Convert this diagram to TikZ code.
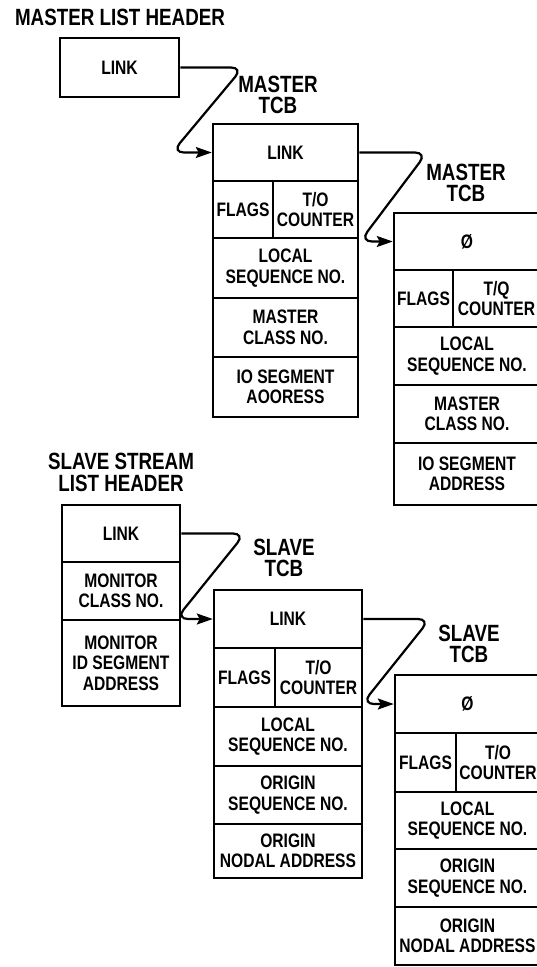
\documentclass[tikz,border=0pt]{standalone}
\usepackage{fontspec}
\newfontfamily\condb{Liberation Sans}[FakeStretch=0.8]
\usetikzlibrary{arrows.meta}
\tikzset{
  cell/.style={draw, line width=2.5pt, inner sep=0pt, align=center,
    font=\condb\bfseries\fontsize{19.5}{20.5}\selectfont},
  head/.style={inner sep=0pt, align=center,
    font=\condb\bfseries\fontsize{23.5}{21.5}\selectfont},
  linkline/.style={line width=2.2pt, rounded corners=12pt,
    -{Stealth[length=16pt,width=11pt,inset=3pt]}}
}
\newcommand{\boxcell}[6]{%
  \pgfmathsetmacro{\cellw}{#4-#2}%
  \pgfmathsetmacro{\cellh}{#5-#3}%
  \node[cell, minimum width=\cellw pt, minimum height=\cellh pt] (#1) at ({(#2+#4)/2},{(#3+#5)/2}) {#6};}
\begin{document}
\begin{tikzpicture}[x=1pt,y=-1pt]
\fill[white] (0,0) rectangle (536,967);
\useasboundingbox (0,0) rectangle (536,967);

% headings
\node[head] (lmh) at (120,17) {MASTER LIST HEADER};
\node[head] (lm1) at (278,95) {MASTER\\TCB};
\node[head] (lm2) at (466,183) {MASTER\\TCB};
\node[head] (lsh) at (121,472.5) {SLAVE STREAM\\LIST HEADER};
\node[head] (ls1) at (284,558) {SLAVE\\TCB};
\node[head] (ls2) at (469,644) {SLAVE\\TCB};

% master list header
\boxcell{mh}{60}{38}{179}{97}{LINK}

% master TCB 1
\boxcell{ma}{213}{124}{358}{181}{LINK}
\boxcell{mf}{213}{181}{273}{238}{FLAGS}
\boxcell{mt}{273}{181}{358}{238}{T/O\\COUNTER}
\boxcell{ml}{213}{238}{358}{298}{LOCAL\\SEQUENCE NO.}
\boxcell{mm}{213}{298}{358}{357}{MASTER\\CLASS NO.}
\boxcell{mi}{213}{357}{358}{417}{IO SEGMENT\\AOORESS}

% master TCB 2
\boxcell{na}{394}{213}{540}{270}{Ø}
\boxcell{nf}{394}{270}{453}{327}{FLAGS}
\boxcell{nt}{453}{270}{540}{327}{T/Q\\COUNTER}
\boxcell{nl}{394}{327}{540}{385}{LOCAL\\SEQUENCE NO.}
\boxcell{nm}{394}{385}{540}{443}{MASTER\\CLASS NO.}
\boxcell{ni}{394}{443}{540}{505}{IO SEGMENT\\ADDRESS}

% slave stream list header
\boxcell{sh}{62}{505}{180}{562}{LINK}
\boxcell{sc}{62}{562}{180}{620}{MONITOR\\CLASS NO.}
\boxcell{si}{62}{620}{180}{706}{MONITOR\\ID SEGMENT\\ADDRESS}

% slave TCB 1
\boxcell{sa}{214}{590}{362}{648}{LINK}
\boxcell{sf}{214}{648}{275}{707}{FLAGS}
\boxcell{st}{275}{648}{362}{707}{T/O\\COUNTER}
\boxcell{sl}{214}{707}{362}{766}{LOCAL\\SEQUENCE NO.}
\boxcell{so}{214}{766}{362}{824}{ORIGIN\\SEQUENCE NO.}
\boxcell{sn}{214}{824}{362}{878}{ORIGIN\\NODAL ADDRESS}

% slave TCB 2
\boxcell{ta}{395}{675}{540}{733}{Ø}
\boxcell{tf}{395}{733}{456}{792}{FLAGS}
\boxcell{tt}{456}{733}{540}{792}{T/O\\COUNTER}
\boxcell{tl}{395}{792}{540}{849}{LOCAL\\SEQUENCE NO.}
\boxcell{to}{395}{849}{540}{907}{ORIGIN\\SEQUENCE NO.}
\boxcell{tn}{395}{907}{540}{965}{ORIGIN\\NODAL ADDRESS}

% links
\draw[linkline] (mh.east) -- (243,0 |- mh.east) -- (172,0 |- ma.west) -- (ma.west);
\draw[linkline] (ma.east) -- (427,0 |- ma.east) -- (360,0 |- na.west) -- (na.west);
\draw[linkline] (sh.east) -- (245,0 |- sh.east) -- (176,0 |- sa.west) -- (sa.west);
\draw[linkline] (sa.east) -- (430,0 |- sa.east) -- (362,0 |- ta.west) -- (ta.west);
\end{tikzpicture}
\end{document}
